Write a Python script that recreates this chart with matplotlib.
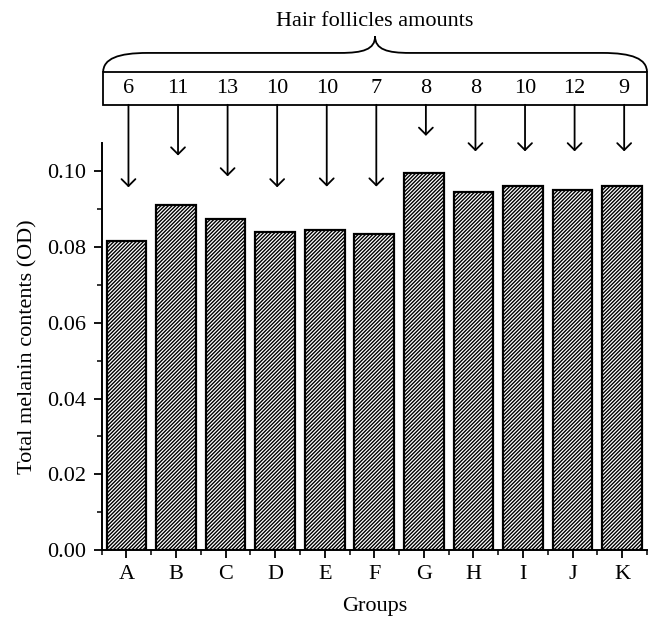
import matplotlib.pyplot as plt
from matplotlib.path import Path
from matplotlib.patches import PathPatch, Rectangle
from matplotlib.ticker import MultipleLocator

plt.rcParams['font.family'] = ['Liberation Serif', 'DejaVu Serif']
plt.rcParams['hatch.linewidth'] = 1.0

groups = ['A', 'B', 'C', 'D', 'E', 'F', 'G', 'H', 'I', 'J', 'K']
melanin = [0.0817, 0.0910, 0.0875, 0.0840, 0.0846, 0.0835,
           0.0996, 0.0946, 0.0961, 0.0951, 0.0961]
follicles = [6, 11, 13, 10, 10, 7, 8, 8, 10, 12, 9]
arrow_tips = [0.0958, 0.1042, 0.0987, 0.0958, 0.0960, 0.0960,
              0.1094, 0.1053, 0.1053, 0.1053, 0.1053]

fig = plt.figure(figsize=(6.62, 6.34), dpi=100)
ax = fig.add_axes([0.1536, 0.1325, 0.8237, 0.6419])

x = list(range(len(groups)))
ax.bar(x, melanin, width=0.8, color='white', edgecolor='black',
       linewidth=1.6, hatch='/' * 9)

ax.set_xlim(-0.5, 10.5)
ax.set_ylim(0, 0.1075)
ax.set_xticks(x)
ax.set_xticklabels(groups)
ax.xaxis.set_minor_locator(MultipleLocator(1, offset=0.5))
ax.yaxis.set_major_locator(MultipleLocator(0.02))
ax.yaxis.set_minor_locator(MultipleLocator(0.01))
ax.yaxis.set_major_formatter(plt.FormatStrFormatter('%.2f'))
ax.tick_params(which='major', direction='out', length=6, width=1.3,
               labelsize=16, pad=5)
ax.tick_params(which='minor', direction='out', length=3.5, width=1.1)
for s in ['top', 'right']:
    ax.spines[s].set_visible(False)
for s in ['left', 'bottom']:
    ax.spines[s].set_linewidth(1.4)

ax.set_xlabel('Groups', fontsize=16, labelpad=9)
ax.set_ylabel('Total melanin contents (OD)', fontsize=16, labelpad=7)

# box with follicle counts
box_bottom, box_top = 0.1176, 0.1262
x0, x1 = -0.47, 10.5
ax.add_patch(Rectangle((x0, box_bottom), x1 - x0, box_top - box_bottom,
                       facecolor='white', edgecolor='black', linewidth=1.3,
                       clip_on=False))
for i, (n, tip) in enumerate(zip(follicles, arrow_tips)):
    xa = i + 0.04
    ax.text(xa, (box_bottom + box_top) / 2, str(n), ha='center',
            va='center', fontsize=16)
    ax.annotate('', xy=(xa, tip), xytext=(xa, box_bottom),
                arrowprops=dict(arrowstyle='->,head_length=0.5,head_width=0.5',
                                color='black', lw=1.3, shrinkA=0, shrinkB=0),
                annotation_clip=False)

# curly brace
ym, yp = 0.1313, 0.1357
xc = (x0 + x1) / 2
verts = [(x0, box_top),
         (x0, box_top + 0.7 * (ym - box_top)), (x0 + 0.3, ym), (x0 + 0.9, ym),
         (xc - 0.7, ym),
         (xc - 0.25, ym), (xc, ym + 0.2 * (yp - ym)), (xc, yp),
         (xc, ym + 0.2 * (yp - ym)), (xc + 0.25, ym), (xc + 0.7, ym),
         (x1 - 0.9, ym),
         (x1 - 0.3, ym), (x1, box_top + 0.7 * (ym - box_top)), (x1, box_top)]
codes = [Path.MOVETO,
         Path.CURVE4, Path.CURVE4, Path.CURVE4,
         Path.LINETO,
         Path.CURVE4, Path.CURVE4, Path.CURVE4,
         Path.CURVE4, Path.CURVE4, Path.CURVE4,
         Path.LINETO,
         Path.CURVE4, Path.CURVE4, Path.CURVE4]
ax.add_patch(PathPatch(Path(verts, codes), facecolor='none',
                       edgecolor='black', linewidth=1.3, clip_on=False))
ax.text(xc, 0.1397, 'Hair follicles amounts', ha='center', va='center',
        fontsize=16)

fig.savefig('out.png', dpi=100)
